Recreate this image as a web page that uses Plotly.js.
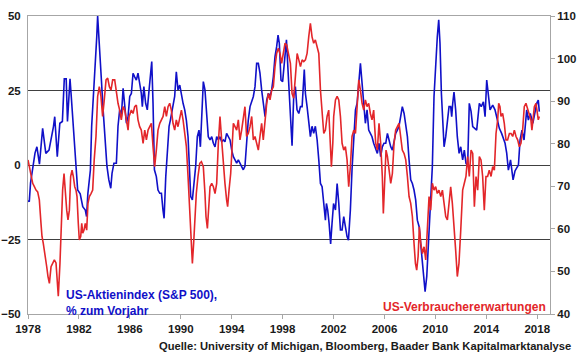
<!DOCTYPE html>
<html>
<head>
<meta charset="utf-8">
<script src="https://cdn.plot.ly/plotly-3.0.1.min.js"></script>
<style>
  html, body { margin: 0; padding: 0; background: #ffffff; }
  #chart { width: 580px; height: 359px; }
</style>
</head>
<body>
<div id="chart"></div>
<script>
// US-Aktienindex (S&P 500), % zum Vorjahr  (left axis)
const spYears = [1978.0,1978.1,1978.2,1978.37,1978.55,1978.7,1978.9,1979.15,1979.4,1979.65,1979.85,1980.0,1980.1,1980.3,1980.5,1980.7,1980.85,1981.0,1981.1,1981.3,1981.4,1981.6,1981.77,1981.9,1982.1,1982.3,1982.5,1982.6,1982.7,1982.9,1983.0,1983.13,1983.27,1983.4,1983.47,1983.6,1983.75,1983.9,1984.07,1984.2,1984.35,1984.5,1984.6,1984.75,1984.94,1985.07,1985.2,1985.33,1985.47,1985.6,1985.73,1985.86,1985.99,1986.12,1986.25,1986.38,1986.51,1986.64,1986.77,1986.9,1986.98,1987.1,1987.24,1987.37,1987.51,1987.61,1987.72,1987.82,1987.93,1988.08,1988.21,1988.35,1988.48,1988.6,1988.69,1988.82,1988.95,1989.08,1989.18,1989.34,1989.52,1989.65,1989.78,1989.92,1990.05,1990.18,1990.31,1990.44,1990.57,1990.65,1990.78,1990.91,1991.04,1991.17,1991.3,1991.43,1991.54,1991.64,1991.77,1991.9,1992.03,1992.16,1992.3,1992.43,1992.56,1992.69,1992.82,1992.95,1993.08,1993.21,1993.34,1993.47,1993.6,1993.73,1993.87,1994.0,1994.13,1994.26,1994.39,1994.52,1994.65,1994.78,1994.91,1995.04,1995.17,1995.3,1995.44,1995.57,1995.7,1995.83,1995.96,1996.09,1996.22,1996.35,1996.48,1996.62,1996.75,1996.88,1997.01,1997.14,1997.27,1997.4,1997.53,1997.64,1997.74,1997.87,1998.0,1998.13,1998.3,1998.45,1998.6,1998.74,1998.87,1999.0,1999.13,1999.27,1999.4,1999.53,1999.7,1999.79,1999.92,2000.05,2000.18,2000.31,2000.44,2000.57,2000.71,2000.84,2000.97,2001.1,2001.23,2001.36,2001.44,2001.54,2001.65,2001.77,2001.88,2002.0,2002.15,2002.28,2002.41,2002.54,2002.67,2002.8,2002.93,2003.06,2003.17,2003.32,2003.45,2003.59,2003.72,2003.85,2003.98,2004.11,2004.24,2004.37,2004.5,2004.63,2004.76,2004.89,2005.02,2005.15,2005.31,2005.44,2005.57,2005.7,2005.83,2005.96,2006.1,2006.23,2006.36,2006.49,2006.62,2006.75,2006.88,2007.01,2007.14,2007.27,2007.4,2007.54,2007.67,2007.8,2007.93,2008.06,2008.19,2008.32,2008.45,2008.58,2008.72,2008.85,2008.98,2009.11,2009.19,2009.32,2009.42,2009.53,2009.63,2009.76,2009.89,2010.02,2010.15,2010.26,2010.36,2010.47,2010.57,2010.68,2010.81,2010.94,2011.07,2011.2,2011.28,2011.36,2011.46,2011.59,2011.72,2011.86,2011.99,2012.14,2012.27,2012.4,2012.53,2012.66,2012.8,2012.93,2013.1,2013.24,2013.45,2013.6,2013.77,2013.9,2014.03,2014.16,2014.29,2014.5,2014.68,2014.81,2015.02,2015.2,2015.47,2015.6,2015.73,2015.9,2016.1,2016.25,2016.4,2016.52,2016.65,2016.8,2016.96,2017.17,2017.3,2017.45,2017.65,2017.83,2017.96,2018.08,2018.16];
const spValues = [-12,-12.3,-6,-1.5,4,6.1,0.3,12.3,3.9,5,9,12.9,16.2,2.8,14,14.6,28.9,28.9,14.6,28.9,22.9,10.7,-2.7,-8.4,-9.7,-14,-15.1,-17.3,-9.7,-1.7,13,21.8,33,43,50,42,29.6,18.5,9.5,-0.4,-5,-7.8,-2.8,0.6,0.6,13,18.5,16.2,25.7,19.6,14,16.2,23,24,30.8,29.6,28.5,30.8,27.4,24,19.6,26.3,20.7,18.5,25.2,29.6,34.7,20.7,-1.6,-3.9,-8.4,-9.5,-9.5,-15.1,-17.9,-3.9,5,13,15,18.5,23,31.3,25.2,26.8,23,20.7,18.5,15,9.5,-0.4,-10.6,-11.7,-6.2,-0.4,9.5,11.7,6.1,16.2,28,25.2,18.5,9.5,8.4,9.5,7.3,6.1,9.5,8.4,9.5,7.8,8.4,7.8,10.6,9.5,8.4,5,2.8,1.7,0.6,1.7,0.6,-0.4,-1.6,-0.4,7.3,15,19.6,21.8,23,26.3,34.1,34.1,30.8,25.2,20.7,16.2,21.8,24,23,25.2,29.6,36.4,39.7,43.6,40.8,28.5,28,35.2,42,29.6,15,6.5,23,26.3,18.5,17.3,19.6,19.6,32,24,19.6,14,9.5,13,10.6,13,8.4,1.7,-6.2,-7.3,-14,-18.5,-12.9,-15.1,-19.6,-26.5,-19.6,-12.9,-15.1,-6.2,-12.9,-21.8,-21.8,-17.3,-20.7,-24,-25.2,-15.1,-1.6,10.6,18.5,20.7,27.4,34.1,27.4,20.7,14,18.5,11.7,10.6,9.5,7.3,5,3.9,7.3,2.8,6.1,7.3,7.3,10.6,8.4,6.1,5,8.4,10.6,11.7,13,16.2,19.6,17.3,14,9.5,1.7,-5,-6.2,-8.4,-11.7,-18.5,-20.7,-27.4,-34.1,-39.7,-42.5,-37.4,-29.6,-21.8,-12.9,-0.4,23,35.2,43.1,48.7,40.8,24,12.9,6.1,9.5,15,19.6,19.6,16.2,20.7,24.5,18.5,9.5,3.9,6.1,1.7,5,0.6,-0.4,20.7,18,12.9,12.3,11.7,20.7,19.6,21.2,16.2,28.5,22.9,18.5,20.1,18.5,16.2,12.3,10.6,7.3,4,-1.7,1.7,-5,-2,-0.6,0,8.4,11.7,8.4,18.5,15.1,17.3,14,18.5,20.7,21.8,17.9];

// US-Verbrauchererwartungen (right axis)
const ceYears = [1978.0,1978.1,1978.24,1978.37,1978.5,1978.63,1978.76,1978.89,1979.02,1979.1,1979.2,1979.28,1979.36,1979.47,1979.57,1979.68,1979.81,1979.94,1980.07,1980.2,1980.28,1980.38,1980.51,1980.62,1980.72,1980.83,1980.93,1981.04,1981.14,1981.25,1981.35,1981.46,1981.56,1981.67,1981.77,1981.85,1981.95,1982.03,1982.14,1982.22,1982.3,1982.4,1982.5,1982.61,1982.71,1982.82,1982.95,1983.08,1983.2,1983.34,1983.47,1983.6,1983.73,1983.86,1983.99,1984.13,1984.26,1984.39,1984.52,1984.65,1984.81,1984.94,1985.07,1985.2,1985.33,1985.47,1985.6,1985.73,1985.86,1985.94,1986.12,1986.25,1986.38,1986.51,1986.64,1986.77,1986.9,1987.04,1987.17,1987.3,1987.43,1987.56,1987.69,1987.82,1987.95,1988.08,1988.21,1988.35,1988.48,1988.61,1988.74,1988.87,1989.0,1989.13,1989.26,1989.39,1989.52,1989.65,1989.78,1989.92,1990.05,1990.18,1990.31,1990.44,1990.57,1990.7,1990.83,1990.91,1991.01,1991.12,1991.22,1991.35,1991.49,1991.62,1991.77,1991.9,1991.98,1992.09,1992.19,1992.3,1992.43,1992.56,1992.69,1992.82,1992.95,1993.08,1993.21,1993.34,1993.47,1993.6,1993.68,1993.79,1993.92,1994.02,1994.13,1994.26,1994.39,1994.52,1994.65,1994.78,1994.91,1995.04,1995.17,1995.3,1995.44,1995.57,1995.7,1995.83,1995.96,1996.09,1996.22,1996.35,1996.48,1996.62,1996.75,1996.88,1997.01,1997.14,1997.27,1997.4,1997.53,1997.66,1997.79,1997.92,1998.05,1998.19,1998.32,1998.45,1998.61,1998.74,1998.87,1999.0,1999.14,1999.27,1999.4,1999.53,1999.66,1999.79,1999.92,2000.05,2000.18,2000.31,2000.44,2000.57,2000.71,2000.84,2000.97,2001.1,2001.23,2001.36,2001.49,2001.62,2001.75,2001.83,2001.94,2002.01,2002.15,2002.28,2002.41,2002.54,2002.67,2002.8,2002.93,2003.06,2003.19,2003.32,2003.45,2003.59,2003.72,2003.85,2003.98,2004.11,2004.24,2004.37,2004.5,2004.63,2004.76,2004.89,2005.02,2005.15,2005.31,2005.44,2005.57,2005.7,2005.83,2005.91,2006.02,2006.12,2006.23,2006.36,2006.49,2006.62,2006.75,2006.88,2007.01,2007.14,2007.27,2007.4,2007.54,2007.67,2007.8,2007.93,2008.06,2008.19,2008.32,2008.43,2008.53,2008.64,2008.74,2008.85,2008.98,2009.11,2009.24,2009.37,2009.5,2009.63,2009.76,2009.89,2010.02,2010.15,2010.28,2010.42,2010.55,2010.68,2010.81,2010.94,2011.07,2011.2,2011.33,2011.46,2011.59,2011.72,2011.85,2011.99,2012.14,2012.27,2012.4,2012.53,2012.66,2012.8,2012.93,2013.06,2013.19,2013.32,2013.45,2013.58,2013.71,2013.84,2013.97,2014.1,2014.23,2014.37,2014.5,2014.63,2014.76,2014.89,2014.97,2015.07,2015.15,2015.28,2015.41,2015.54,2015.67,2015.81,2015.94,2016.07,2016.2,2016.33,2016.46,2016.59,2016.72,2016.85,2016.98,2017.11,2017.25,2017.38,2017.5,2017.58,2017.69,2017.77,2017.9,2017.98,2018.08,2018.16];
const ceValues = [76.2,74.6,72.3,70.7,69.9,69.1,68.7,66.8,61.3,58.2,56.6,55,54.2,51.1,48.8,47.2,51.1,51.9,52.7,52,47.2,44.2,51.9,60.5,69.1,73,68.3,64.4,62.1,64.4,72.3,73.8,72.3,69.9,69.1,67.6,61.3,57.4,58.2,61.3,59,59.7,61.3,59.7,66,67.6,68.3,69.1,76.2,81.7,91.1,93.4,91.1,86.4,90.3,95,95.4,93.4,92.6,95,95,91.8,89.5,87.9,85.6,88.7,87.9,85.6,83.2,86.4,87.9,87.1,88.7,89.1,85.6,84,83.2,80.1,83.2,80.9,83.2,84,84.8,79.3,74.6,78.5,83.2,84.8,85.6,86.4,88.7,86.4,88.7,89.5,87.9,84.8,83.2,85.6,84,86.4,87.9,85.6,81.7,79.3,72.3,62.9,55,51.9,56.6,62.9,68.3,72.3,75.4,75.8,74.6,68.3,62.9,60.1,64.4,69.9,70.7,69.9,68.3,70.7,80.1,86.4,80.9,74.6,70.7,66.8,65.2,69.1,73,78.5,84.8,84,83.2,85.6,80.9,83.2,86.4,88.7,81.7,82.4,84,86.4,80.9,81.7,80.1,78.5,81.7,84.8,80.9,85.6,89.5,91.8,90.3,92.6,93.4,98.1,101.2,102.4,101.2,98.9,101.2,103.6,103.2,101.2,98.9,91.8,90.7,95.7,101.2,99.7,98.1,99.7,99.3,99.7,101.2,105.1,108.3,105.1,103.6,104.4,102.8,101.2,92.6,87.1,82.4,83.2,86.4,87.9,80.1,74.6,80.1,86.4,90.3,91.1,90.3,86.4,80.1,78.5,79.3,76.2,69.9,74.6,81.7,83.2,82.4,87.9,95,92.6,89.5,87.9,90.3,88.7,89.5,87.1,85.6,87.9,80.1,78.5,84.8,80.1,72.3,63.6,70.7,78.5,77,73,70.7,73,80.1,83.2,84,84.8,81.7,78.5,77.7,76.2,72.3,67.6,66,62.9,56.6,51.9,50.3,53.5,60.5,56.6,54.2,55.8,52.7,59.7,67.6,64.4,70.7,69.1,69.9,68.3,69.1,67.6,69.1,66,62.9,62.1,66,69.9,66,61.3,55,48.8,51.9,59.7,69.1,70.7,72.3,77,72.3,78.5,77.7,65.2,72.3,69.1,77,76.2,72.3,64.4,72.3,72.3,73.8,72.3,74.6,73.8,82.4,85.6,89.5,88.7,86.4,87.1,84.8,80.9,80.9,82.4,82.4,81.7,83.2,81.7,80.9,79.3,80.1,83.2,88.7,89.5,87.9,86.4,85.6,83.2,86.4,88.7,89.5,87.1,85.6,86.4];

const xTickVals = [1978,1982,1986,1990,1994,1998,2002,2006,2010,2014,2018];
const xTickText = ['1978','1982','1986','1990','1994','1998','2002','2006','2010','2014','2018'];
const leftTickVals = [-50,-25,0,25,50];
const rightTickVals = [40,50,60,70,80,90,100,110];

const labelSP = 'US-Aktienindex (S&P 500),<br>% zum Vorjahr';
const labelCE = 'US-Verbrauchererwartungen';
const sourceText = 'Quelle: University of Michigan, Bloomberg, Baader Bank Kapitalmarktanalyse';

const BLUE = '#1010c8';
const RED = '#e3262a';
const FONT = 'Liberation Sans, Arial, sans-serif';

const traces = [
  { x: ceYears, y: ceValues, yaxis: 'y2', type: 'scatter', mode: 'lines',
    line: { color: RED, width: 1.6 }, hoverinfo: 'skip', showlegend: false },
  { x: spYears, y: spValues, yaxis: 'y', type: 'scatter', mode: 'lines',
    line: { color: BLUE, width: 1.6 }, hoverinfo: 'skip', showlegend: false }
];

const layout = {
  width: 580, height: 359,
  margin: { l: 28, r: 30, t: 16, b: 45, pad: 0 },
  paper_bgcolor: '#ffffff', plot_bgcolor: '#ffffff',
  font: { family: FONT, size: 11, color: '#1a1a1a' },
  showlegend: false,
  xaxis: {
    range: [1978, 2019], tickvals: xTickVals, ticktext: xTickText,
    showgrid: false, zeroline: false,
    showline: true, linecolor: '#a6a6a6', linewidth: 1, mirror: true,
    ticks: 'outside', ticklen: 4, tickcolor: '#a6a6a6',
    tickfont: { family: FONT, size: 11.5, color: '#1a1a1a', weight: 'bold' }
  },
  yaxis: {
    range: [-50, 50], tickvals: leftTickVals,
    showgrid: true, gridcolor: '#404040', gridwidth: 1,
    zeroline: false, showline: true, linecolor: '#a6a6a6', linewidth: 1,
    ticks: '', ticklabelstandoff: 4,
    tickfont: { family: FONT, size: 11.5, color: '#1a1a1a', weight: 'bold' }
  },
  yaxis2: {
    range: [40, 110], tickvals: rightTickVals, overlaying: 'y', side: 'right',
    showgrid: false, zeroline: false, showline: true, linecolor: '#a6a6a6', linewidth: 1,
    ticks: 'outside', ticklen: 4, tickcolor: '#a6a6a6',
    tickfont: { family: FONT, size: 11.5, color: '#1a1a1a', weight: 'bold' }
  },
  annotations: [
    { xref: 'paper', yref: 'paper', x: 0.069, y: 0.093, xanchor: 'left', yanchor: 'top',
      align: 'left', showarrow: false, text: labelSP,
      font: { family: FONT, size: 12, color: BLUE, weight: 'bold' } },
    { xref: 'paper', yref: 'paper', x: 0.997, y: 0.024, xanchor: 'right', yanchor: 'middle',
      align: 'right', showarrow: false, text: labelCE,
      font: { family: FONT, size: 12, color: RED, weight: 'bold' } },
    { xref: 'paper', yref: 'paper', x: 1.045, y: -0.107, xanchor: 'right', yanchor: 'middle',
      align: 'right', showarrow: false, text: sourceText,
      font: { family: FONT, size: 11.2, color: '#1a1a1a', weight: 'bold' } }
  ]
};

Plotly.newPlot('chart', traces, layout, { staticPlot: true, displayModeBar: false });
</script>
</body>
</html>
